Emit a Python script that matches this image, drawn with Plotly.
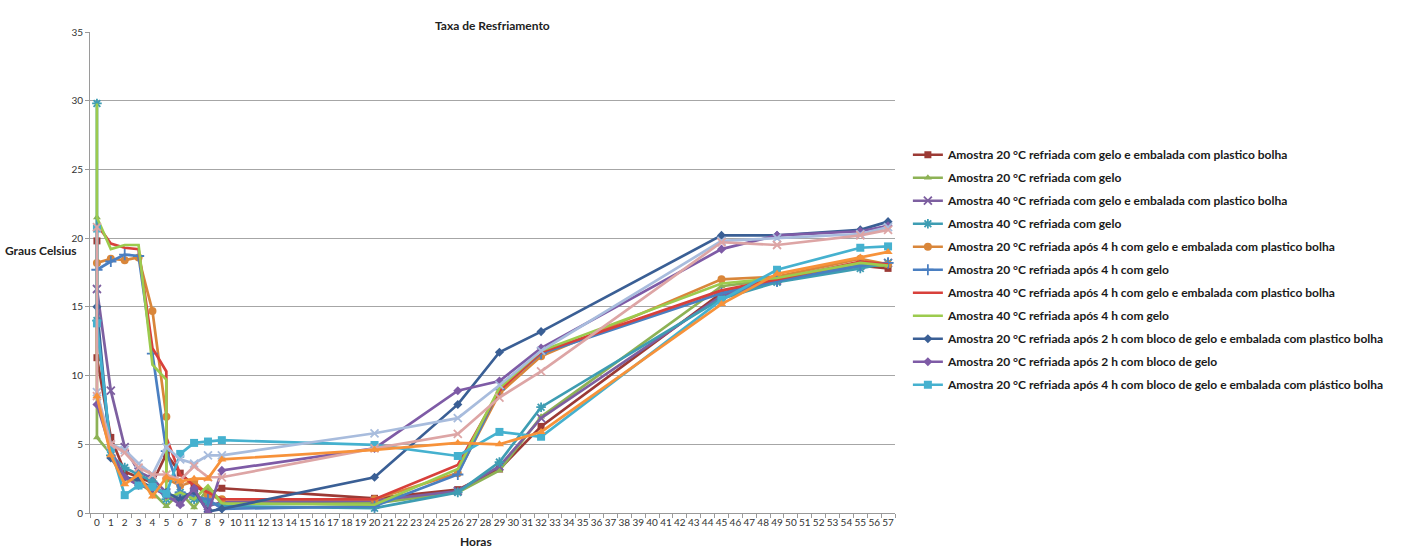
import plotly.graph_objects as go

# Hour ticks shown on the x axis
hour_ticks = list(range(0, 58))
temp_ticks = [0, 5, 10, 15, 20, 25, 30, 35]

# Readings (hours, temperature in degrees Celsius) for each sample
h1 = [0, 0, 1, 2, 3, 4, 5, 6, 7, 8, 9, 20, 26, 29, 32, 45, 49, 55, 57]
t1 = [19.8, 11.3, 5.5, 3.0, 2.6, 2.2, 4.3, 2.9, 2.0, 1.4, 1.8, 1.07, 1.7, 3.2, 6.3, 16.0, 17.0, 18.0, 17.8]

h2 = [0, 0, 1, 2, 3, 4, 5, 6, 7, 8, 9, 20, 26, 29, 32, 45, 49, 55, 57]
t2 = [21.5, 5.5, 4.3, 2.5, 2.2, 1.5, 0.5, 1.5, 0.4, 1.8, 0.7, 0.7, 1.5, 3.1, 7.0, 16.5, 17.0, 18.0, 18.0]

h3 = [0, 1, 2, 3, 4, 5, 6, 7, 8, 9, 20, 26, 29, 32, 45, 49, 55, 57]
t3 = [16.3, 8.9, 4.8, 3.0, 2.5, 1.5, 0.8, 1.5, 0.5, 0.8, 0.9, 1.6, 3.4, 6.9, 15.8, 16.9, 18.0, 18.2]

h4 = [0, 0, 1, 2, 3, 4, 5, 6, 7, 8, 9, 20, 26, 29, 32, 45, 49, 55, 57]
t4 = [29.8, 14.0, 4.2, 3.3, 2.8, 2.3, 1.0, 1.5, 1.0, 0.8, 0.5, 0.35, 1.5, 3.7, 7.7, 15.6, 16.8, 17.8, 18.2]

h5 = [0, 1, 2, 3, 4, 5, 5, 6, 7, 8, 9, 20, 26, 29, 32, 45, 49, 55, 57]
t5 = [18.2, 18.5, 18.4, 18.6, 14.7, 7.0, 2.5, 2.0, 2.3, 1.3, 1.0, 1.0, 2.9, 8.7, 11.4, 17.0, 17.2, 18.5, 18.1]

h6 = [0, 1, 2, 3, 4, 5, 6, 7, 8, 9, 20, 26, 29, 32, 45, 49, 55, 57]
t6 = [17.7, 18.3, 18.8, 18.7, 11.6, 4.5, 1.5, 1.2, 1.0, 0.3, 0.5, 2.8, 9.0, 11.6, 16.0, 16.9, 18.0, 18.2]

h7 = [0, 1, 2, 3, 4, 5, 5, 6, 7, 8, 9, 20, 26, 29, 32, 45, 49, 55, 57]
t7 = [21.0, 19.6, 19.3, 19.2, 12.0, 10.3, 5.5, 2.8, 2.0, 1.5, 1.0, 1.0, 3.5, 8.9, 11.7, 16.2, 17.0, 18.3, 18.1]

h8 = [0, 0, 1, 2, 3, 4, 5, 5, 6, 7, 8, 9, 20, 26, 29, 32, 45, 49, 55, 57]
t8 = [29.8, 21.5, 19.2, 19.5, 19.5, 10.8, 9.7, 1.0, 1.5, 1.0, 2.0, 0.7, 0.6, 3.2, 9.1, 11.8, 16.7, 17.1, 18.2, 18.0]

h9 = [0, 1, 2, 3, 4, 5, 6, 7, 8, 9, 20, 26, 29, 32, 45, 49, 55, 57]
t9 = [15.0, 4.0, 2.6, 2.4, 1.8, 1.5, 1.0, 1.6, 0.1, 0.3, 2.6, 7.9, 11.7, 13.2, 20.2, 20.2, 20.6, 21.2]

h10 = [0, 1, 2, 3, 4, 5, 6, 7, 8, 9, 20, 26, 29, 32, 45, 49, 55, 57]
t10 = [7.9, 4.6, 2.6, 2.0, 1.8, 1.3, 0.6, 1.8, 0.0, 3.1, 4.7, 8.9, 9.6, 12.0, 19.2, 20.2, 20.5, 20.9]

h11 = [0, 0, 1, 2, 3, 4, 5, 6, 7, 8, 9, 20, 26, 29, 32, 45, 49, 55, 57]
t11 = [20.7, 13.8, 4.7, 1.3, 2.0, 1.9, 1.4, 4.3, 5.1, 5.2, 5.3, 4.95, 4.15, 5.9, 5.55, 15.5, 17.7, 19.3, 19.4]

h12 = [0, 1, 2, 3, 4, 5, 6, 7, 8, 9, 20, 26, 29, 32, 45, 49, 55, 57]
t12 = [8.8, 5.0, 4.6, 3.6, 2.8, 4.8, 3.9, 3.6, 4.2, 4.2, 5.8, 6.9, 9.3, 11.8, 19.8, 20.0, 20.3, 20.8]

h13 = [0, 0, 1, 2, 3, 4, 5, 6, 7, 8, 9, 20, 26, 29, 32, 45, 49, 55, 57]
t13 = [20.8, 8.5, 5.0, 4.4, 3.3, 2.8, 2.8, 2.4, 3.4, 2.6, 2.6, 4.7, 5.75, 8.4, 10.3, 19.7, 19.5, 20.2, 20.6]

h14 = [0, 1, 2, 3, 4, 5, 6, 7, 8, 9, 20, 26, 29, 32, 45, 49, 55, 57]
t14 = [8.5, 4.2, 2.1, 2.8, 1.2, 2.6, 2.3, 2.5, 2.5, 3.9, 4.6, 5.1, 5.0, 5.9, 15.2, 17.4, 18.6, 19.0]

names = [
    "Amostra 20 °C refriada com gelo e embalada com plastico bolha",
    "Amostra 20 °C refriada com gelo",
    "Amostra 40 °C refriada com gelo e embalada com plastico bolha",
    "Amostra 40 °C refriada com gelo",
    "Amostra 20 °C refriada após 4 h com gelo e embalada com plastico bolha",
    "Amostra 20 °C refriada após 4 h com gelo",
    "Amostra 40 °C refriada após 4 h com gelo e embalada com plastico bolha",
    "Amostra 40 °C refriada após 4 h com gelo",
    "Amostra 20 °C refriada após 2 h com bloco de gelo e embalada com plastico bolha",
    "Amostra 20 °C refriada após 2 h com bloco de gelo",
    "Amostra 20 °C refriada após 4 h com bloco de gelo e embalada com plástico bolha",
    "Amostra A",
    "Amostra B",
    "Amostra C",
]

hours = [h1, h2, h3, h4, h5, h6, h7, h8, h9, h10, h11, h12, h13, h14]
temps = [t1, t2, t3, t4, t5, t6, t7, t8, t9, t10, t11, t12, t13, t14]

colors = ["#9C3A35", "#8DB255", "#7D5FA0", "#3E9DB3", "#D9863A", "#4A7FC1",
          "#D8403B", "#9CCB4E", "#3A5F95", "#7E5BA6", "#45B1CF",
          "#A8BCDD", "#DDA5A5", "#F7923A"]
symbols = ["square", "triangle-up", "x-thin-open", "asterisk-open", "circle",
           "cross-thin-open", None, None, "diamond", "diamond", "square",
           "x-thin-open", "x-thin-open", "triangle-up"]
sizes = [7, 7, 8, 8, 8, 8, 0, 0, 7, 7, 8, 8, 8, 8]
in_legend = [True] * 11 + [False] * 3

fig = go.Figure()
for i in range(len(names)):
    sym = symbols[i]
    trace = dict(
        x=hours[i], y=temps[i], name=names[i],
        line=dict(color=colors[i], width=2.7),
        showlegend=in_legend[i], legendgroup=f"g{i}",
    )
    if sym is None:
        trace["mode"] = "lines"
    else:
        trace["mode"] = "lines+markers"
        mk = dict(symbol=sym, size=sizes[i], color=colors[i])
        if sym.endswith("open"):
            mk["line"] = dict(color=colors[i], width=1.8)
        trace["marker"] = mk
    fig.add_trace(go.Scatter(**trace))

fig.update_layout(
    width=1408, height=548,
    paper_bgcolor="white", plot_bgcolor="white",
    margin=dict(l=90, r=513, t=32, b=35),
    font=dict(family="Lato, Open Sans, sans-serif", size=10, color="#404040"),
    legend=dict(
        x=1.016, y=0.775, xanchor="left", yanchor="top",
        font=dict(family="Lato, sans-serif", size=12, color="#1a1a1a", weight="bold"),
        traceorder="grouped", tracegroupgap=4, itemwidth=30,
        bgcolor="rgba(0,0,0,0)",
    ),
    xaxis=dict(
        range=[-0.5, 57.5], tickmode="array", tickvals=hour_ticks,
        ticktext=[str(h) for h in hour_ticks], showgrid=False, zeroline=False,
        showline=True, linecolor="#9a9a9a", linewidth=1,
        ticks="", tickfont=dict(size=10, color="#333333"),
        minor=dict(tick0=0.5, dtick=1, ticks="outside", ticklen=4, tickcolor="#9a9a9a"),
    ),
    yaxis=dict(
        range=[0, 35], tickmode="array", tickvals=temp_ticks,
        showgrid=True, gridcolor="#a6a6a6", gridwidth=1, zeroline=False,
        showline=True, linecolor="#9a9a9a", linewidth=1,
        ticks="outside", ticklen=4, tickcolor="#9a9a9a",
        tickfont=dict(size=10, color="#333333"),
    ),
    annotations=[
        dict(text="<b>Taxa de Resfriamento</b>", xref="paper", yref="paper",
             x=0.5, y=1, yshift=16, showarrow=False,
             font=dict(size=12, color="#222222")),
        dict(text="<b>Graus Celsius</b>", xref="paper", yref="paper",
             x=0, xshift=-87, y=0.545, xanchor="left", yanchor="middle",
             showarrow=False, font=dict(size=12, color="#222222")),
        dict(text="<b>Horas</b>", xref="paper", yref="paper",
             x=0.479, y=0, yshift=-28, yanchor="middle", showarrow=False,
             font=dict(size=12, color="#222222")),
    ],
)

fig.write_html("out.html")
